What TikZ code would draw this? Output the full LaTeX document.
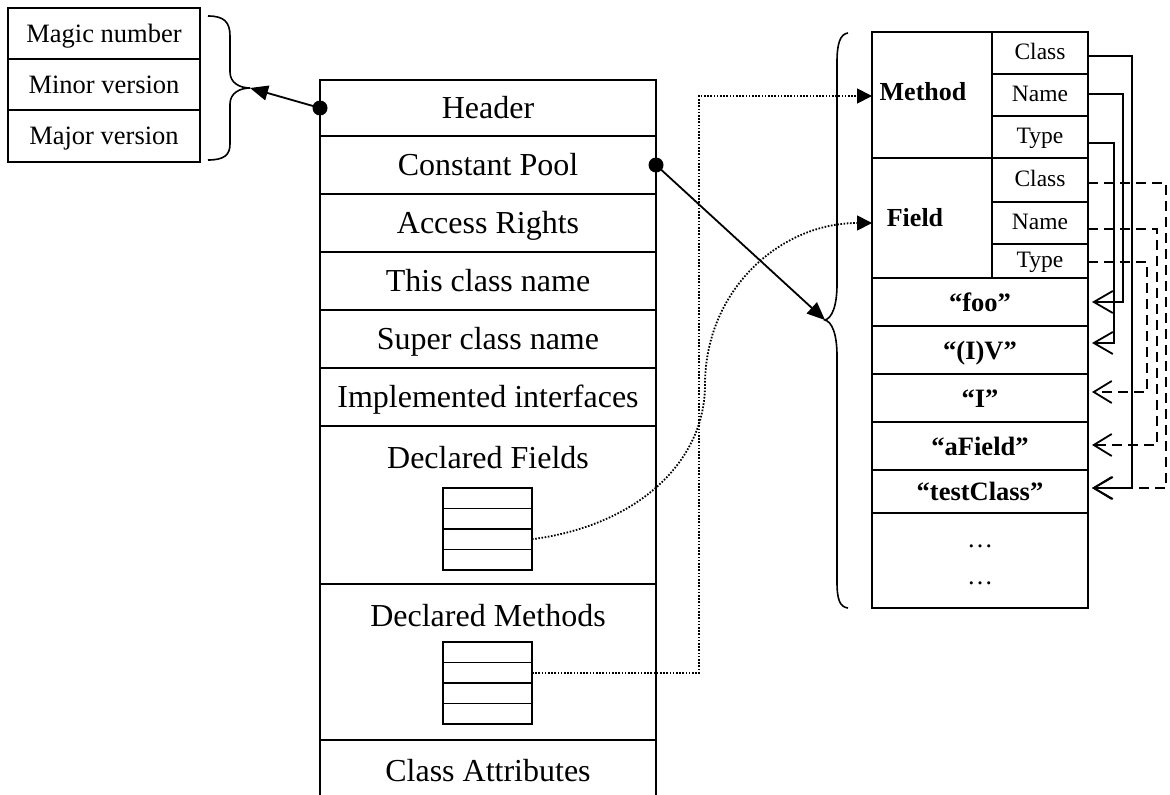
\documentclass[tikz,border=0pt]{standalone}
\usepackage{fontspec}
\setmainfont{Liberation Serif}
\usetikzlibrary{arrows.meta}
\begin{document}
\begin{tikzpicture}[x=1pt,y=-1pt,
  frame/.style={draw,line width=1.6pt,inner sep=0pt,outer sep=0pt,anchor=north west},
  thin frame/.style={frame,line width=1.4pt},
  maintxt/.style={font=\fontsize{32}{38}\selectfont,text height=22pt,text depth=1pt},
  smalltxt/.style={font=\fontsize{26.5}{30}\selectfont,text height=18pt,text depth=1pt},
  subtxt/.style={font=\fontsize{23.5}{28}\selectfont,text height=16pt,text depth=3pt},
  strtxt/.style={font=\bfseries\fontsize{26.5}{30}\selectfont,text height=18pt,text depth=0pt},
  lbltxt/.style={font=\bfseries\fontsize{26}{30}\selectfont},
  brace/.style={line width=1.6pt},
  link/.style={line width=1.8pt,-{Triangle[length=18pt,width=15pt]}},
  dots/.style={line width=1.8pt,dash pattern=on 1.6pt off 1.6pt,-{Triangle[length=15pt,width=15pt]}},
  solptr/.style={line width=1.8pt,-{Straight Barb[length=19pt,width=22pt]}},
  dashptr/.style={line width=1.8pt,dash pattern=on 10pt off 6pt,-{Straight Barb[length=18pt,width=22pt]}},
]
\useasboundingbox (0,0) rectangle (1170,795);

% ---------- header fields ----------
\node[frame,smalltxt,minimum width=192,minimum height=51] (magic) at (8,8) {Magic number};
\node[frame,smalltxt,minimum width=192,minimum height=51] (minor) at (8,59) {Minor version};
\node[frame,smalltxt,minimum width=192,minimum height=52] (major) at (8,110) {Major version};

% ---------- class file layout ----------
\node[frame,maintxt,minimum width=336,minimum height=56] (header) at (320,80) {Header};
\node[frame,maintxt,minimum width=336,minimum height=58] (cpool) at (320,136) {Constant Pool};
\node[frame,maintxt,minimum width=336,minimum height=58] (access) at (320,194) {Access Rights};
\node[frame,maintxt,minimum width=336,minimum height=58] (thisname) at (320,252) {This class name};
\node[frame,maintxt,minimum width=336,minimum height=58] (supername) at (320,310) {Super class name};
\node[frame,maintxt,minimum width=336,minimum height=58] (impl) at (320,368) {Implemented interfaces};
\node[frame,minimum width=336,minimum height=158] (fields) at (320,426) {};
\node[maintxt] (fieldslbl) at (488,458) {Declared Fields};
\node[frame,minimum width=336,minimum height=156] (methods) at (320,584) {};
\node[maintxt] (methodslbl) at (488,616) {Declared Methods};
\draw[line width=1.6pt] (320,800) -- (320,740) -- (656,740) -- (656,800);
\node[maintxt] (attrs) at (488,771) {Class Attributes};

% small tables inside the field / method sections
\foreach \i/\y in {1/488,2/508.5,3/529,4/549.5}
  \node[thin frame,minimum width=89,minimum height=20.5] (fr\i) at (443,\y) {};
\foreach \i/\y in {1/642,2/662.5,3/683,4/703.5}
  \node[thin frame,minimum width=89,minimum height=20.5] (mr\i) at (443,\y) {};

% ---------- constant pool entries ----------
\node[frame,minimum width=120,minimum height=126] (methodcell) at (872,32) {};
\node[lbltxt] (methodlbl) at (923,92) {Method};
\node[frame,minimum width=120,minimum height=120] (fieldcell) at (872,158) {};
\node[lbltxt] (fieldlbl) at (915,218) {Field};

\node[frame,subtxt,minimum width=96,minimum height=42] (mclass) at (992,32) {Class};
\node[frame,subtxt,minimum width=96,minimum height=42] (mname) at (992,74) {Name};
\node[frame,subtxt,minimum width=96,minimum height=42] (mtype) at (992,116) {Type};
\node[frame,subtxt,minimum width=96,minimum height=44] (fclass) at (992,158) {Class};
\node[frame,subtxt,minimum width=96,minimum height=42] (fname) at (992,202) {Name};
\node[frame,subtxt,minimum width=96,minimum height=34] (ftype) at (992,244) {Type};

\node[frame,strtxt,minimum width=216,minimum height=48] (foo) at (872,278) {“foo”};
\node[frame,strtxt,minimum width=216,minimum height=48] (ivs) at (872,326) {“(I)V”};
\node[frame,strtxt,minimum width=216,minimum height=48] (icell) at (872,374) {“I”};
\node[frame,strtxt,minimum width=216,minimum height=48] (afield) at (872,422) {“aField”};
\node[frame,strtxt,minimum width=216,minimum height=43] (tclass) at (872,470) {“testClass”};
\node[frame,minimum width=216,minimum height=95] (more) at (872,513) {};
\node[font=\fontsize{26}{30}\selectfont] (dotsa) at (980,546) {…};
\node[font=\fontsize{26}{30}\selectfont] (dotsb) at (980,583) {…};

% ---------- braces ----------
\coordinate (lbtip) at (250,88);
\draw[brace] (208,16) .. controls (224,16) and (230,22) .. (230,36) -- (230,72)
  .. controls (230,83) and (240,88) .. (lbtip)
  .. controls (240,88) and (230,93) .. (230,104) -- (230,144)
  .. controls (230,155) and (224,160) .. (208,160);

\coordinate (rbtip) at (825,320);
\draw[brace] (848,33) .. controls (840,34) and (837,44) .. (837,62) -- (837,284)
  .. controls (837,306) and (832,318) .. (rbtip)
  .. controls (832,322) and (837,334) .. (837,356) -- (837,582)
  .. controls (837,600) and (840,607) .. (848,608);

% ---------- pointers from the layout ----------
\fill (header.west) circle[radius=7.5pt];
\draw[link] (header.west) -- (lbtip);
\fill (cpool.east) circle[radius=7.5pt];
\draw[link] (cpool.east) -- (rbtip);

\coordinate (methodIn) at (872,96);
\coordinate (fieldIn) at (872,223);
\draw[dots] (mr2.east) -- ++(167,0) |- (methodIn);
\draw[dots] (fr3.east) .. controls (640,525) and (705,460) .. (705,385)
  .. controls (705,290) and (780,223) .. (fieldIn);

% ---------- references into the string entries ----------
\coordinate (mcO) at (1088,56);
\coordinate (mnO) at (1088,94);
\coordinate (mtO) at (1088,143);
\coordinate (fcO) at (1088,183);
\coordinate (fnO) at (1088,229);
\coordinate (ftO) at (1088,262);
\coordinate (fooI) at (1092,302);
\coordinate (ivI) at (1092,343);
\coordinate (iI) at (1092,392);
\coordinate (afI) at (1092,445);
\coordinate (tcI) at (1092,488);

\draw[dashptr] (fcO) -- ++(78,0) |- (tcI);
\draw[dashptr] (fnO) -- ++(69,0) |- (afI);
\draw[dashptr] (ftO) -- ++(59,0) |- (iI);
\draw[solptr] (mcO) -- ++(44,0) |- (tcI);
\draw[solptr] (mnO) -- ++(35,0) |- (fooI);
\draw[solptr] (mtO) -- ++(26,0) |- (ivI);
\end{tikzpicture}
\end{document}
